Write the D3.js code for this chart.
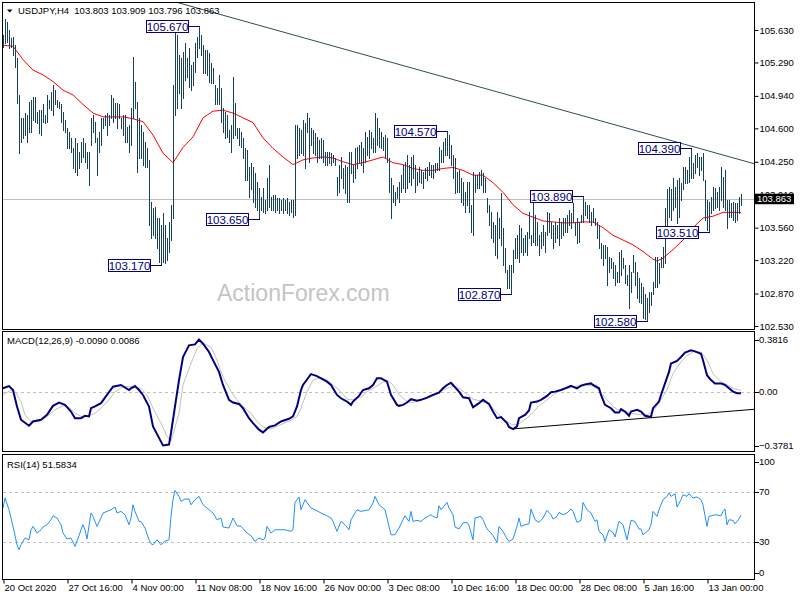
<!DOCTYPE html>
<html><head><meta charset="utf-8">
<script src="https://cdn.jsdelivr.net/npm/d3@7/dist/d3.min.js"></script>
<style>
body{margin:0;background:#fff}
text{font-family:"Liberation Sans",Arial,sans-serif}
</style></head>
<body><svg id="c" width="800" height="600"></svg>
<script>
// ---------------- DATA ----------------
const symbolTitle = "USDJPY,H4  103.803 103.909 103.796 103.863";
const macdTitle = "MACD(12,26,9) -0.0090 0.0086";
const rsiTitle = "RSI(14) 51.5834";
const lastPrice = 103.863;

const highs = [
105.58,105.74,105.71,105.63,105.55,105.56,105.47,105.34,104.95,104.71,
104.71,104.76,104.74,104.88,104.90,104.93,104.93,104.77,104.79,104.79,
104.85,104.74,104.95,104.90,104.98,105.05,105.00,104.90,104.88,104.85,
104.77,104.69,104.60,104.56,104.50,104.39,104.50,104.45,104.35,104.46,
104.50,104.45,104.35,104.35,104.71,104.74,104.67,104.50,104.56,104.71,
104.71,104.74,104.76,104.74,104.95,104.92,104.87,104.87,104.85,104.71,
104.74,104.74,104.61,104.63,104.81,105.35,105.09,104.88,104.71,104.63,
104.56,104.46,104.39,104.27,103.83,103.77,103.78,103.66,103.66,103.59,
103.71,103.59,103.45,103.62,103.80,105.05,105.66,105.58,105.37,105.34,
105.40,105.49,105.34,105.44,105.26,105.29,105.49,105.56,105.67,105.58,
105.47,105.42,105.42,105.39,105.28,105.23,105.05,105.02,105.16,105.02,
104.81,104.77,104.74,104.58,104.63,105.14,104.87,104.60,104.60,104.56,
104.50,104.39,104.37,104.19,104.24,104.19,104.13,104.04,103.98,103.88,
103.98,103.85,104.08,104.22,103.88,103.90,103.90,103.87,103.87,103.85,
103.87,103.85,103.87,103.83,103.85,103.85,104.63,104.63,104.60,104.58,
104.69,104.66,104.76,104.71,104.60,104.58,104.55,104.51,104.48,104.50,
104.48,104.35,104.35,104.35,104.34,104.32,104.29,104.09,104.22,104.30,
104.18,104.22,104.19,104.35,104.35,104.22,104.39,104.40,104.43,104.46,
104.39,104.56,104.51,104.58,104.56,104.50,104.76,104.71,104.60,104.56,
104.51,104.53,104.50,104.29,104.08,104.01,103.93,103.99,104.04,104.11,
104.22,104.25,104.32,104.22,104.30,104.32,104.22,104.14,104.19,104.16,
104.14,104.18,104.19,104.25,104.22,104.22,104.24,104.24,104.40,104.37,
104.46,104.50,104.57,104.53,104.43,104.32,104.29,104.14,104.16,104.08,
104.04,103.93,104.04,104.04,103.80,104.14,104.11,104.11,104.14,104.16,
104.13,104.08,103.87,103.80,103.72,103.62,103.59,103.72,103.66,103.92,
103.56,103.35,103.12,103.17,103.17,103.33,103.45,103.48,103.59,103.56,
103.45,103.48,103.51,103.72,103.48,103.92,103.69,103.62,103.48,103.51,
103.59,103.51,103.72,103.71,103.62,103.59,103.62,103.59,103.66,103.62,
103.66,103.66,103.69,103.75,103.71,103.82,103.62,103.66,103.62,103.69,
103.89,103.83,103.80,103.80,103.72,103.77,103.66,103.62,103.59,103.40,
103.38,103.38,103.36,103.25,103.24,103.20,103.17,103.10,103.31,103.33,
103.24,103.17,103.06,103.17,103.10,103.27,103.20,103.10,103.03,102.98,
102.94,102.86,102.82,102.89,102.89,102.99,103.25,103.25,103.19,103.25,
103.36,103.77,103.96,103.99,103.96,104.08,103.99,104.06,104.08,104.03,
104.19,104.19,104.16,104.30,104.39,104.24,104.32,104.34,104.30,104.30,
104.34,104.06,103.85,103.83,103.88,103.99,103.98,103.93,103.99,104.19,
104.09,104.16,103.85,103.85,103.82,103.83,103.82,103.82,103.88,103.909];

const lows = [
105.45,105.49,105.50,105.44,105.45,105.37,105.24,104.87,104.34,104.46,
104.50,104.53,104.46,104.56,104.56,104.69,104.67,104.66,104.55,104.53,
104.67,104.66,104.67,104.81,104.79,104.74,104.85,104.82,104.81,104.67,
104.58,104.56,104.39,104.39,104.35,104.18,104.14,104.11,104.18,104.25,
104.30,104.25,104.18,104.01,104.43,104.56,104.46,104.11,104.35,104.43,
104.60,104.63,104.53,104.63,104.71,104.67,104.71,104.60,104.71,104.60,
104.53,104.46,104.46,104.35,104.43,104.71,104.81,104.14,104.29,104.29,
104.22,104.19,104.19,103.59,103.45,103.48,103.45,103.35,103.20,103.17,
103.20,103.19,103.22,103.30,103.43,103.66,104.74,104.81,104.97,104.81,
104.92,105.11,105.14,105.03,105.00,105.05,105.19,105.35,105.44,105.37,
105.18,105.18,105.16,105.09,105.08,105.08,104.85,104.85,104.85,104.67,
104.56,104.50,104.51,104.46,104.35,104.50,104.53,104.50,104.43,104.40,
104.29,104.06,104.06,103.88,103.96,103.83,103.78,103.75,103.65,103.75,
103.72,103.71,103.75,103.78,103.75,103.75,103.72,103.75,103.71,103.75,
103.71,103.75,103.71,103.69,103.72,103.67,103.69,104.29,104.32,104.34,
104.32,104.18,104.56,104.25,104.43,104.34,104.32,104.25,104.29,104.29,
104.25,104.22,104.22,104.24,104.22,104.25,104.22,103.90,103.93,104.08,
103.98,103.92,103.83,103.83,104.13,104.04,104.08,104.18,104.25,104.22,
104.14,104.25,104.32,104.29,104.39,104.35,104.35,104.43,104.40,104.39,
104.37,104.30,104.25,103.93,103.66,103.83,103.80,103.87,103.83,103.93,
103.98,103.93,103.98,104.04,104.01,104.08,103.93,104.01,104.04,104.03,
103.98,104.08,104.06,104.11,104.09,104.08,104.14,104.16,104.16,104.25,
104.25,104.32,104.32,104.29,104.22,104.08,103.92,103.93,103.93,103.83,
103.80,103.72,103.80,103.72,103.51,103.48,103.93,103.98,103.98,104.01,
103.93,103.93,103.72,103.59,103.45,103.41,103.27,103.24,103.45,103.38,
103.17,103.10,102.93,102.93,102.87,103.10,103.24,103.24,103.20,103.31,
103.27,103.31,103.27,103.45,103.38,103.41,103.38,103.38,103.27,103.35,
103.38,103.31,103.48,103.51,103.45,103.35,103.41,103.45,103.38,103.45,
103.48,103.51,103.51,103.59,103.56,103.62,103.48,103.40,103.41,103.62,
103.62,103.69,103.66,103.62,103.59,103.62,103.59,103.45,103.35,103.24,
103.17,103.24,102.96,103.10,103.14,103.03,102.96,102.99,102.99,103.06,
103.14,102.98,102.96,102.72,102.89,103.10,102.96,102.82,102.78,102.77,
102.61,102.60,102.58,102.68,102.75,102.86,102.94,102.94,102.98,103.15,
103.15,103.19,103.54,103.67,103.64,103.75,103.78,103.61,103.67,103.85,
103.96,104.03,104.03,104.04,104.08,104.08,104.13,104.19,104.11,104.16,
104.06,103.64,103.54,103.51,103.71,103.75,103.77,103.78,103.75,103.85,
103.78,103.75,103.56,103.67,103.67,103.64,103.62,103.64,103.71,103.796];

// moving average (bar index, value)
const maIdx = [0,5,10,15,20,25,30,35,40,45,50,55,60,65,70,75,80,85,90,95,100,105,110,115,120,125,130,135,140,145,150,155,160,165,170,175,180,185,190,195,200,205,210,215,220,225,230,235,240,245,250,255,260,265,270,275,280,285,290,295,300,305,310,315,320,325,327,330,335,340,345,350,355,360,365,369];
const maVal = [105.47,105.46,105.32,105.21,105.16,105.09,105.00,104.95,104.85,104.76,104.72,104.72,104.72,104.70,104.67,104.53,104.34,104.24,104.40,104.51,104.71,104.78,104.79,104.76,104.71,104.66,104.50,104.39,104.30,104.22,104.27,104.29,104.30,104.29,104.25,104.22,104.24,104.27,104.30,104.24,104.22,104.18,104.16,104.16,104.18,104.19,104.16,104.11,104.11,104.03,103.93,103.80,103.71,103.67,103.63,103.62,103.61,103.61,103.62,103.62,103.56,103.48,103.43,103.38,103.31,103.23,103.21,103.24,103.33,103.43,103.56,103.66,103.68,103.72,103.72,103.72];

// MACD main line (bar index, value)
const macdIdx = [0,3,5,7,9,13,15,19,22,25,28,31,34,36,39,41,43,44,46,49,52,55,59,63,64,66,68,70,73,75,78,80,83,84,86,88,90,93,96,98,100,103,105,108,110,113,115,118,120,123,125,128,130,133,136,139,143,145,147,149,150,153,154,157,159,162,164,167,169,172,174,175,178,180,183,185,187,189,192,194,197,198,200,202,204,207,209,212,215,218,220,222,224,225,228,230,233,235,238,240,243,245,247,249,252,253,255,257,258,261,263,264,267,269,272,274,276,279,281,283,284,287,289,291,294,295,298,299,301,304,306,308,309,311,313,314,317,319,321,324,325,328,329,331,333,334,337,339,341,344,346,349,350,352,354,356,359,361,363,365,367,369];
const macdVal = [0.022,0.036,0.011,-0.093,-0.177,-0.215,-0.188,-0.177,-0.146,-0.089,-0.068,-0.083,-0.125,-0.167,-0.167,-0.152,-0.156,-0.104,-0.093,-0.072,-0.020,0.032,0.043,0.011,0.022,0.036,0.011,-0.020,-0.093,-0.219,-0.292,-0.340,-0.334,-0.261,-0.093,0.074,0.220,0.294,0.300,0.331,0.304,0.252,0.200,0.126,0.043,-0.051,-0.068,-0.077,-0.104,-0.167,-0.198,-0.240,-0.257,-0.223,-0.213,-0.188,-0.171,-0.156,-0.093,0.011,0.043,0.095,0.112,0.099,0.085,0.064,0.043,-0.020,-0.041,-0.062,-0.083,-0.062,-0.026,0.011,0.022,0.043,0.085,0.085,0.064,-0.020,-0.083,-0.089,-0.083,-0.068,-0.047,-0.056,-0.051,-0.037,-0.020,-0.005,0.022,0.043,0.057,0.043,0.001,-0.035,-0.041,-0.098,-0.072,-0.051,-0.077,-0.125,-0.167,-0.160,-0.198,-0.223,-0.236,-0.219,-0.167,-0.146,-0.118,-0.068,-0.062,-0.051,-0.026,-0.003,0.001,0.011,0.022,0.032,0.038,0.022,0.038,0.047,0.053,0.043,0.022,-0.020,-0.083,-0.104,-0.131,-0.131,-0.110,-0.125,-0.152,-0.125,-0.114,-0.125,-0.152,-0.160,-0.104,-0.062,-0.020,0.053,0.126,0.179,0.195,0.220,0.248,0.262,0.256,0.241,0.200,0.105,0.074,0.053,0.053,0.043,0.022,0.001,-0.009,-0.009];

// MACD signal line (bar index, value)
const sigIdx = [0,4,6,9,11,14,18,22,26,30,33,36,39,43,46,49,53,56,60,64,69,72,75,79,82,84,85,88,90,94,97,100,104,107,110,114,117,120,124,127,130,134,137,140,144,147,149,152,155,159,162,165,169,172,175,179,182,185,189,192,195,198,200,202,205,208,212,215,218,222,225,228,232,235,238,242,245,248,252,255,258,262,265,268,272,275,278,282,285,288,292,295,298,302,305,308,312,315,318,322,325,328,332,335,339,342,345,349,352,355,359,362,365,369];
const sigVal = [-0.020,0.011,0.001,-0.062,-0.146,-0.188,-0.188,-0.156,-0.114,-0.089,-0.098,-0.135,-0.156,-0.152,-0.135,-0.104,-0.051,0.001,0.032,0.032,0.022,-0.020,-0.104,-0.198,-0.282,-0.313,-0.271,-0.135,0.043,0.179,0.273,0.308,0.283,0.200,0.095,0.001,-0.051,-0.093,-0.135,-0.188,-0.223,-0.236,-0.219,-0.202,-0.181,-0.156,-0.104,0.001,0.074,0.091,0.074,0.043,0.001,-0.047,-0.051,-0.035,0.001,0.022,0.053,0.074,0.043,-0.015,-0.040,-0.062,-0.068,-0.056,-0.041,-0.026,0.001,0.022,0.036,0.022,-0.014,-0.047,-0.056,-0.072,-0.104,-0.146,-0.188,-0.211,-0.202,-0.167,-0.131,-0.089,-0.051,-0.020,0.005,0.022,0.032,0.036,0.041,0.036,0.011,-0.051,-0.093,-0.118,-0.131,-0.139,-0.144,-0.146,-0.125,-0.068,0.011,0.116,0.189,0.231,0.252,0.252,0.200,0.116,0.064,0.043,0.022,0.009];

// RSI(14) (bar index, value)
const rsiIdx = [0,1,3,5,7,8,9,11,13,14,15,17,19,20,22,24,25,27,29,30,32,34,36,38,39,40,41,42,44,45,47,49,50,52,54,56,57,59,61,63,64,65,66,68,69,71,73,74,75,77,79,81,83,84,85,86,88,89,91,93,94,96,98,100,103,105,107,109,110,113,115,117,119,122,124,126,128,130,131,132,134,136,139,141,144,145,146,148,149,151,154,156,159,161,164,165,167,169,171,173,174,177,179,183,185,186,188,191,193,194,196,198,201,203,204,205,207,209,211,214,215,217,218,219,222,223,225,226,228,230,232,233,235,236,239,240,242,244,245,247,248,250,252,253,255,257,258,259,261,263,264,266,268,270,272,274,275,277,278,280,282,284,285,287,289,290,292,294,296,297,298,300,301,303,305,306,308,310,312,314,316,318,319,320,323,324,325,327,328,330,332,333,334,336,337,339,340,342,343,345,347,349,350,352,353,356,359,360,361,362,363,365,366,368,369];
const rsiVal = [57.2,65.2,55.8,42.5,27.8,23.8,27.8,33.2,31.8,39.8,42.5,37.2,39.8,42.0,43.8,47.8,51.0,49.2,43.8,37.2,32.4,33.2,26.5,35.0,39.8,43.8,39.8,32.4,53.2,50.5,42.5,49.2,53.2,54.5,55.8,58.0,53.2,54.5,51.8,43.8,49.2,59.8,54.5,46.5,46.5,41.2,31.8,28.6,27.8,31.8,27.8,30.5,31.8,50.5,63.8,71.3,66.5,62.5,64.4,64.4,59.8,63.8,66.5,59.8,55.8,53.2,47.8,49.2,42.0,41.2,49.2,43.0,42.5,37.2,35.0,30.5,33.2,31.8,33.2,42.5,37.2,39.8,39.8,39.8,38.5,39.8,61.7,66.0,55.8,63.8,57.2,55.8,53.2,51.8,49.2,46.5,38.5,46.5,43.8,39.8,47.8,55.8,54.5,55.8,61.2,66.5,59.8,55.8,42.5,35.8,35.8,41.2,51.0,46.5,54.5,46.5,47.3,46.5,49.2,51.8,50.5,49.2,59.0,55.8,61.7,57.2,51.8,42.0,40.4,45.2,45.7,43.0,31.8,49.2,50.5,47.8,40.4,37.2,35.0,29.7,42.5,38.5,32.4,30.5,32.4,42.5,49.2,42.5,43.8,44.6,56.4,47.8,45.7,49.2,55.3,51.8,48.4,50.5,53.7,51.8,53.2,56.4,54.5,45.7,47.3,61.7,55.8,53.2,46.5,47.8,38.5,35.8,30.5,39.8,37.7,34.0,46.5,43.8,31.8,47.3,46.5,40.4,40.4,35.8,39.8,43.8,54.5,50.5,55.8,63.8,66.5,69.2,66.5,68.6,58.0,63.8,67.8,66.5,68.6,65.2,66.0,63.8,59.8,42.5,50.5,51.8,51.0,54.5,56.4,43.8,47.8,47.3,44.6,48.4,51.6];

// annotated swing levels
const swingPrices = [105.670,103.170,103.650,104.570,102.870,103.890,102.580,104.390,103.510];
const swingBars   = [98,79,128,222,254,290,322,344,353];

// trend lines (bar index, value)
const priceTrendBars = [92,375.5];
const priceTrendVals = [105.89,104.23];
const macdTrendBars = [255,375.5];
const macdTrendVals = [-0.235,-0.111];

// axis ticks
const priceTicks = [102.53,102.87,103.22,103.56,103.91,104.25,104.60,104.94,105.29,105.63];
const timeTickBars = [0,32,64,96,128,160,192,224,256,288,320,352];
const timeTickLabels = ["20 Oct 2020","27 Oct 16:00","4 Nov 00:00","11 Nov 08:00","18 Nov 16:00","26 Nov 00:00","3 Dec 08:00","10 Dec 16:00","18 Dec 00:00","28 Dec 08:00","5 Jan 16:00","13 Jan 00:00"];
const macdAxisLabels = [0.3816,0,-0.3781];
const rsiAxisLabels = [100,70,30,0];
const rsiLevels = [70,30];

// ---------------- DRAW ----------------
const svg = d3.select("#c");
const L = 2.5, R = 754.5;
const P1 = [2.5,329.5], P2 = [331.5,451.5], P3 = [454.5,579.5];

const x  = d3.scaleLinear().domain([0,369]).range([3,741]);
const yP = d3.scaleLinear().domain([102.53,105.63]).range([326,30]);
const yM = d3.scaleLinear().domain([-0.3781,0.3816]).range([451.5,331.5]);
const yR = d3.scaleLinear().domain([0,100]).range([579.5,454.5]);

const defs = svg.append("defs");
[["c1",P1],["c2",P2],["c3",P3]].forEach(([id,p])=>{
  defs.append("clipPath").attr("id",id).append("rect")
    .attr("x",L).attr("y",p[0]).attr("width",R-L).attr("height",p[1]-p[0]);
});

svg.append("rect").attr("width",800).attr("height",600).attr("fill","#fff");

// ---- main panel ----
const g1 = svg.append("g").attr("clip-path","url(#c1)");

g1.append("text").attr("x",217).attr("y",301).attr("font-size",23)
  .attr("fill","#c4c4c4").text("ActionForex.com");

g1.append("line").attr("x1",L).attr("x2",R)
  .attr("y1",Math.round(yP(lastPrice))+0.5).attr("y2",Math.round(yP(lastPrice))+0.5)
  .attr("stroke","#c0c0c0").attr("shape-rendering","crispEdges");

const ma = maIdx.map((i,k)=>({i,v:maVal[k]}));
g1.append("path").datum(ma)
  .attr("d",d3.line().x(d=>x(d.i)).y(d=>yP(d.v)))
  .attr("fill","none").attr("stroke","#ff0000").attr("stroke-width",1);

const bars = highs.map((h,i)=>({i,h:Math.max(h,lows[i]),l:Math.min(h,lows[i])}));
g1.append("g").selectAll("line").data(bars).join("line")
  .attr("x1",d=>Math.round(x(d.i))+0.5).attr("x2",d=>Math.round(x(d.i))+0.5)
  .attr("y1",d=>Math.round(yP(d.h))).attr("y2",d=>Math.round(yP(d.l))+1)
  .attr("stroke","#17415a").attr("stroke-width",1).attr("shape-rendering","crispEdges");

// price trend line extended across panel
(function(){
  const s=(priceTrendVals[1]-priceTrendVals[0])/(priceTrendBars[1]-priceTrendBars[0]);
  const i0=0, i1=priceTrendBars[1];
  const v0=priceTrendVals[0]+s*(i0-priceTrendBars[0]);
  g1.append("line").attr("x1",x(i0)).attr("y1",yP(v0))
    .attr("x2",x(i1)).attr("y2",yP(priceTrendVals[1]))
    .attr("stroke","#2f4f4f").attr("stroke-width",1);
})();

// swing labels
const sw = swingPrices.map((p,k)=>({p,b:swingBars[k]}));
const sg = g1.append("g");
sw.forEach(d=>{
  const bx=Math.round(x(d.b)), by=Math.round(yP(d.p))+0.5;
  sg.append("line").attr("x1",bx-10).attr("x2",bx+0.5).attr("y1",by).attr("y2",by)
    .attr("stroke","#000080").attr("shape-rendering","crispEdges");
  sg.append("rect").attr("x",bx-52.5).attr("y",by-6).attr("width",42).attr("height",12)
    .attr("fill","#fff").attr("stroke","#000080").attr("shape-rendering","crispEdges");
  sg.append("text").attr("x",bx-31.5).attr("y",by+4.2).attr("text-anchor","middle")
    .attr("font-size",11.5).attr("fill","#000080").text(d3.format(".3f")(d.p));
});

// ---- MACD panel ----
const g2 = svg.append("g").attr("clip-path","url(#c2)");
g2.append("line").attr("x1",L).attr("x2",R).attr("y1",Math.round(yM(0))+0.5).attr("y2",Math.round(yM(0))+0.5)
  .attr("stroke","#c0c0c0").attr("stroke-dasharray","3,3").attr("shape-rendering","crispEdges");
g2.append("path").datum(sigIdx.map((i,k)=>({i,v:sigVal[k]})))
  .attr("d",d3.line().x(d=>x(d.i)).y(d=>yM(d.v)))
  .attr("fill","none").attr("stroke","#c0c0c0").attr("stroke-width",1);
g2.append("path").datum(macdIdx.map((i,k)=>({i,v:macdVal[k]})))
  .attr("d",d3.line().x(d=>x(d.i)).y(d=>yM(d.v)))
  .attr("fill","none").attr("stroke","#000080").attr("stroke-width",2);
g2.append("line").attr("x1",x(macdTrendBars[0])).attr("y1",yM(macdTrendVals[0]))
  .attr("x2",x(macdTrendBars[1])).attr("y2",yM(macdTrendVals[1]))
  .attr("stroke","#000").attr("stroke-width",1);

// ---- RSI panel ----
const g3 = svg.append("g").attr("clip-path","url(#c3)");
rsiLevels.forEach(v=>{
  g3.append("line").attr("x1",L).attr("x2",R).attr("y1",Math.round(yR(v))+0.5).attr("y2",Math.round(yR(v))+0.5)
    .attr("stroke","#c0c0c0").attr("stroke-dasharray","3,3").attr("shape-rendering","crispEdges");
});
g3.append("path").datum(rsiIdx.map((i,k)=>({i,v:rsiVal[k]})))
  .attr("d",d3.line().x(d=>x(d.i)).y(d=>yR(d.v)))
  .attr("fill","none").attr("stroke","#1e90ff").attr("stroke-width",1);

// ---- panel borders ----
[P1,P2,P3].forEach(p=>{
  svg.append("rect").attr("x",L).attr("y",p[0]).attr("width",R-L).attr("height",p[1]-p[0])
    .attr("fill","none").attr("stroke","#000").attr("shape-rendering","crispEdges");
});

// ---- titles ----
svg.append("path").attr("d","M7,9.5L12.5,9.5L9.75,12.5Z").attr("fill","#000");
svg.append("text").attr("x",18).attr("y",13.5).attr("font-size",9.5).style("white-space","pre")
  .attr("fill","#000").text(symbolTitle);
svg.append("text").attr("x",7).attr("y",344).attr("font-size",9.5).attr("fill","#000").text(macdTitle);
svg.append("text").attr("x",7).attr("y",467.5).attr("font-size",9.5).attr("fill","#000").text(rsiTitle);

// ---- price axis ----
const ax1 = svg.append("g").attr("transform",`translate(${R},0)`)
  .call(d3.axisRight(yP).tickValues(priceTicks).tickSize(4).tickPadding(1).tickFormat(d3.format(".3f")));
ax1.select(".domain").remove();
ax1.selectAll("text").attr("font-size",9.5).attr("font-family","Liberation Sans, Arial, sans-serif").attr("fill","#000");
ax1.selectAll("line").attr("stroke","#000");

// last price marker
const ly = yP(lastPrice);
svg.append("rect").attr("x",755).attr("y",ly-5).attr("width",39).attr("height",10.5).attr("fill","#000");
svg.append("text").attr("x",757).attr("y",ly+3.6).attr("font-size",9.5).attr("fill","#fff").text(d3.format(".3f")(lastPrice));

// ---- MACD axis labels ----
macdAxisLabels.forEach(v=>{
  const yy = yM(v) + (v>0.1?8: v<-0.1?-6:0);
  svg.append("line").attr("x1",R).attr("x2",R+4).attr("y1",Math.round(yy)+0.5).attr("y2",Math.round(yy)+0.5)
    .attr("stroke","#000").attr("shape-rendering","crispEdges");
  svg.append("text").attr("x",759).attr("y",yy+3.4).attr("font-size",9.5).attr("fill","#000")
    .text(v===0?"0.00":d3.format(".4f")(v));
});

// ---- RSI axis labels ----
rsiAxisLabels.forEach(v=>{
  const yy = yR(v) + (v===100?7.5: v===0?-7:0);
  svg.append("line").attr("x1",R).attr("x2",R+4).attr("y1",Math.round(yy)+0.5).attr("y2",Math.round(yy)+0.5)
    .attr("stroke","#000").attr("shape-rendering","crispEdges");
  svg.append("text").attr("x",759).attr("y",yy+3.4).attr("font-size",9.5).attr("fill","#000").text(v);
});

// ---- time axis ----
const ax3 = svg.append("g").attr("transform",`translate(0,${P3[1]})`)
  .call(d3.axisBottom(x).tickValues(timeTickBars).tickSize(4).tickFormat((d,k)=>timeTickLabels[k]));
ax3.select(".domain").remove();
ax3.selectAll(".tick line").attr("stroke","#000").attr("transform","translate(0.5,0)");
ax3.selectAll("text").attr("text-anchor","start").attr("x",1).attr("y",5)
  .attr("font-size",9.5).attr("font-family","Liberation Sans, Arial, sans-serif").attr("fill","#000");
</script>
</body></html>
